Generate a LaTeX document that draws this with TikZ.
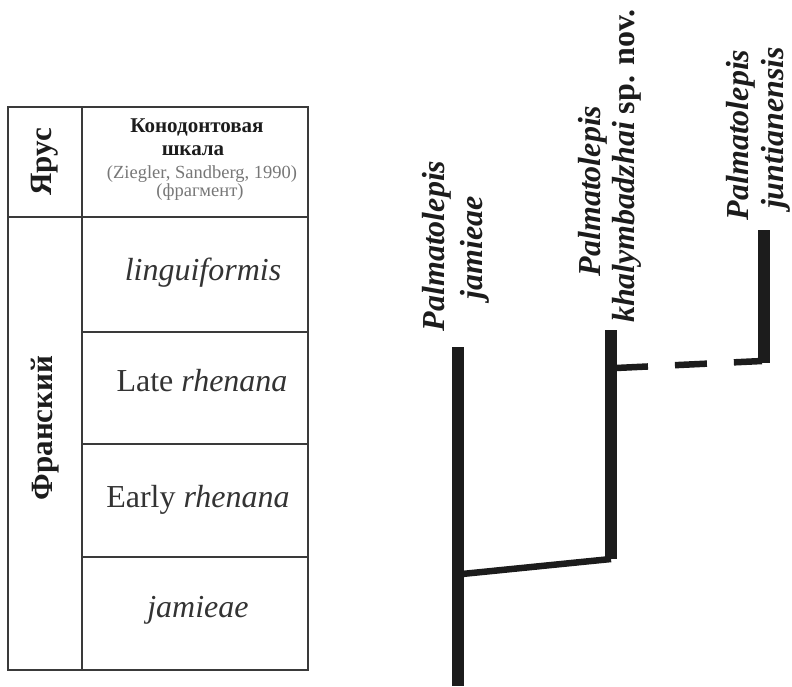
\documentclass[tikz,border=0pt]{standalone}
\usepackage{fontspec}
\setmainfont{Liberation Serif}
\definecolor{ink}{HTML}{1C1C1C}
\definecolor{rule}{HTML}{3A3A3A}
\definecolor{celltext}{HTML}{333333}
\definecolor{note}{HTML}{777777}
\begin{document}
\begin{tikzpicture}[x=1pt,y=-1pt,
  grid/.style={draw=rule, line width=1.8pt},
  bar/.style={draw=ink, line width=12pt},
  twig/.style={draw=ink, line width=6.5pt},
  stage/.style={font=\fontsize{31}{34}\selectfont\bfseries, text=ink, rotate=90, inner sep=0},
  zone/.style={font=\fontsize{32}{36}\selectfont, text=celltext, inner sep=0},
  head/.style={font=\fontsize{21}{23}\selectfont\bfseries, text=ink, inner sep=0},
  headnote/.style={font=\fontsize{18.5}{20}\selectfont, text=note, inner sep=0},
  taxon/.style={font=\fontsize{32}{36}\selectfont\bfseries\itshape, text=ink, rotate=90, inner sep=0}]
\useasboundingbox (0,0) rectangle (792,686);
% table
\draw[grid] (8,107) rectangle (308,670);
\draw[grid] (82,107) -- (82,670);
\draw[grid] (8,217) -- (308,217);
\draw[grid] (82,332) -- (308,332);
\draw[grid] (82,444) -- (308,444);
\draw[grid] (82,557) -- (308,557);
\node[stage] (yarus) at (45,162) {Ярус};
\node[stage] (fran) at (45,428) {Франский};
\node[head] (h1) at (197,127) {Конодонтовая};
\node[head] (h2) at (193,151) {шкала};
\node[headnote] (h3) at (202,174) {(Ziegler, Sandberg, 1990)};
\node[headnote] (h4) at (200,192) {(фрагмент)};
\node[zone] (z1) at (203,273) {\itshape linguiformis};
\node[zone] (z2) at (202,381) {Late \textit{rhenana}};
\node[zone] (z3) at (198,500) {Early \textit{rhenana}};
\node[zone] (z4) at (198,610) {\itshape jamieae};
% tree labels
\node[taxon] (l1a) at (437,246) {Palmatolepis};
\node[taxon] (l1b) at (475,248) {jamieae};
\node[taxon] (l2a) at (593,191) {Palmatolepis};
\node[taxon] (l2b) at (627,166) {khalymbadzhai \upshape sp. nov.};
\node[taxon] (l3a) at (741,135) {Palmatolepis};
\node[taxon] (l3b) at (776,128) {juntianensis};
% tree
\coordinate (jtop) at (457.5,347);
\coordinate (jbot) at (457.5,686);
\coordinate (jfork) at (462,574);
\coordinate (ktop) at (611,330);
\coordinate (kbot) at (611,559);
\coordinate (kfork) at (616,368);
\coordinate (utop) at (763.5,230);
\coordinate (ubot) at (763.5,363);
\coordinate (uend) at (762,361);
\draw[bar] (jtop) -- (jbot);
\draw[bar] (ktop) -- (kbot);
\draw[bar] (utop) -- (ubot);
\draw[twig] (jfork) -- (kbot);
\draw[twig, dash pattern=on 32pt off 27pt] (kfork) -- (uend);
\end{tikzpicture}
\end{document}
